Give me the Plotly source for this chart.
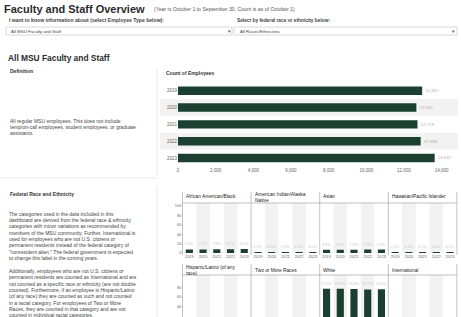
import plotly.graph_objects as go

W, H = 461, 317


def px(x):
    return x / W


def py(y):
    return 1 - y / H


# ---------------- data ----------------
years = ["2019", "2020", "2021", "2022", "2023"]
employee_counts = [12967, 12661, 12719, 12888, 13632]
count_ticks = [0, 2000, 4000, 6000, 8000, 10000, 12000, 14000]

race_groups = [
    "African American/Black",
    "American Indian/Alaska<br>Native",
    "Asian",
    "Hawaiian/Pacific Islander",
    "Hispanic/Latino (of any<br>race)",
    "Two or More Races",
    "White",
    "International",
]
pct_african_american = [7.6, 7.7, 7.9, 8.1, 8.4]
pct_american_indian = [0.5, 0.5, 0.5, 0.5, 0.5]
pct_asian = [6.8, 6.9, 7.0, 7.3, 7.4]
pct_hawaiian = [0.1, 0.1, 0.1, 0.1, 0.1]
pct_hispanic = [3.6, 3.8, 4.0, 4.2, 4.5]
pct_two_or_more = [1.8, 1.9, 2.0, 2.2, 2.3]
pct_white = [77.0, 76.9, 76.8, 75.7, 76.0]
pct_international = [3.3, 3.1, 3.0, 3.0, 3.2]
race_values = [pct_african_american, pct_american_indian, pct_asian, pct_hawaiian,
               pct_hispanic, pct_two_or_more, pct_white, pct_international]
pct_ticks_row1 = [0, 20, 40, 60, 80, 100]
pct_ticks_row2 = [20, 40, 60, 80]

definition_lines = [
    "All regular MSU employees. This does not include",
    "temp/on-call employees, student employees, or graduate",
    "assistants.",
]
federal_para1 = [
    "The categories used in the data included in this",
    "dashboard are derived from the federal race &amp; ethnicity",
    "categories with minor variations as recommended by",
    "members of the MSU community. Further, International is",
    "used for employees who are not U.S. citizens or",
    "permanent residents instead of the federal category of",
    "\"nonresident alien.\" The federal government is expected",
    "to change this label in the coming years.",
]
federal_para2 = [
    "Additionally, employees who are not U.S. citizens or",
    "permanent residents are counted as International and are",
    "not counted as a specific race or ethnicity (are not double",
    "counted). Furthermore, if an employee is Hispanic/Latino",
    "(of any race) they are counted as such and not counted",
    "in a racial category. For employees of Two or More",
    "Races, they are counted in that category and are not",
    "counted in individual racial categories.",
]

# ---------------- style ----------------
FONT = "Liberation Sans, Arial, sans-serif"
GREEN = "#1b3f30"
TXT = "#333333"
GRID_GRAY = "#f2f2f2"
LINE_H = 6.3

fig = go.Figure()
annotations = []
shapes = []


def text(x, y, s, size=5, color=TXT, bold=False, anchor="left"):
    if bold:
        s = "<b>" + s + "</b>"
    annotations.append(dict(
        x=px(x), y=py(y), xref="paper", yref="paper", text=s, showarrow=False,
        xanchor=anchor, yanchor="middle", align="left",
        font=dict(family=FONT, size=size, color=color)))


def line(x0, y0, x1, y1, color="#e2e2e2", width=0.8):
    shapes.append(dict(type="line", xref="paper", yref="paper",
                       x0=px(x0), y0=py(y0), x1=px(x1), y1=py(y1),
                       line=dict(color=color, width=width)))


def rect(x0, y0, x1, y1, color="#c8c8c8"):
    shapes.append(dict(type="rect", xref="paper", yref="paper",
                       x0=px(x0), y0=py(y0), x1=px(x1), y1=py(y1),
                       line=dict(color=color, width=0.7), fillcolor="white"))


# ---------------- header texts ----------------
text(2, 8.5, "Faculty and Staff Overview", size=11, color="#2b2b2b", bold=True)
text(152, 8.5, "(Year is October 1 to September 30. Count is as of October 1)", size=5.15, color="#555")
text(7, 20, "I want to know information about (select Employee Type below):", size=5.1, color="#444", bold=True)
text(235, 20, "Select by federal race or ethnicity below:", size=4.8, color="#444", bold=True)
rect(6, 27, 232, 35)
rect(234, 27, 457, 35)
text(9, 31, "All MSU Faculty and Staff", size=4.4, color="#444")
text(238, 31, "All Races/Ethnicities", size=4.4, color="#444")
text(229.5, 31, "▾", size=5, color="#555", anchor="center")
text(453.5, 31, "▾", size=5, color="#555", anchor="center")
text(6, 58.3, "All MSU Faculty and Staff", size=8.4, color="#2b2b2b", bold=True)
text(8, 71, "Definition", size=5, color="#333", bold=True)
text(164, 73, "Count of Employees", size=5, color="#333", bold=True)

for i, s in enumerate(definition_lines):
    text(8, 120.7 + i * LINE_H, s, size=5, color="#444")

text(8, 193.5, "Federal Race and Ethnicity", size=5, color="#333", bold=True)
for i, s in enumerate(federal_para1):
    text(7, 213.8 + i * LINE_H, s, size=5, color="#444")
for i, s in enumerate(federal_para2):
    text(7, 271.0 + i * LINE_H, s, size=5, color="#444")

# separators
line(157, 69, 157, 176)
line(157, 186, 157, 317)
line(0, 178, 157, 178)

# ---------------- top bar chart ----------------
x0_px, x14k_px = 178.0, 441.6
scale = (x14k_px - x0_px) / 14000
right_px = 455
fig.add_trace(go.Bar(
    x=employee_counts, y=years, orientation="h", marker=dict(color=GREEN, line=dict(width=0)),
    width=0.5, texttemplate="%{x:,}", textposition="outside", constraintext="none",
    cliponaxis=False, textfont=dict(family=FONT, size=4.4, color="#b0b0b0"),
    xaxis="x", yaxis="y", hoverinfo="skip", showlegend=False))

layout_axes = dict(
    xaxis=dict(domain=[px(x0_px), px(right_px)], range=[0, (right_px - x0_px) / scale],
               tickvals=count_ticks, tickformat=",", showgrid=False, zeroline=False,
               showline=False, ticks="", tickfont=dict(family=FONT, size=4.5, color="#666"),
               anchor="y", fixedrange=True, automargin=False),
    yaxis=dict(domain=[py(166.4), py(82.3)], type="category", categoryorder="array",
               categoryarray=years, autorange="reversed", showgrid=False, zeroline=False,
               ticks="", tickfont=dict(family=FONT, size=4.5, color="#666"), anchor="x",
               fixedrange=True, automargin=False),
)
# row banding
for idx in (1, 3):
    shapes.append(dict(type="rect", xref="paper", yref="y", x0=px(160), x1=px(458),
                       y0=idx - 0.5, y1=idx + 0.5, fillcolor=GRID_GRAY,
                       line=dict(width=0), layer="below"))

# ---------------- facet panels ----------------
L = [182.5, 251.1, 319.7, 388.3, 456.9]
for i, (name, vals) in enumerate(zip(race_groups, race_values)):
    row, col = divmod(i, 4)
    n = i + 2
    xa, ya = f"x{n}", f"y{n}"
    fig.add_trace(go.Bar(
        x=years, y=vals, marker=dict(color=GREEN, line=dict(width=0)), width=0.52,
        texttemplate="%{y:.1f}%", textposition="outside", constraintext="none",
        cliponaxis=False, textfont=dict(family=FONT, size=3.8, color="#c8c8c8"),
        xaxis=xa, yaxis=ya, hoverinfo="skip", showlegend=False))
    if row == 0:
        ydom = [py(253), py(203)]
        yrange = [0, 106.4]
        ytv = pct_ticks_row1
    else:
        ydom = [0, py(275)]
        yrange = [(325 - 317) / 0.47, 106.4]
        ytv = pct_ticks_row2
    layout_axes[f"xaxis{n}"] = dict(
        domain=[px(L[col]), px(L[col + 1])], type="category", categoryorder="array",
        categoryarray=years, range=[-0.5, 4.5], showgrid=False, zeroline=False,
        showline=False, ticks="", showticklabels=(row == 0),
        tickfont=dict(family=FONT, size=4, color="#666"), anchor=ya, fixedrange=True,
        automargin=False)
    layout_axes[f"yaxis{n}"] = dict(
        domain=ydom, range=yrange, tickvals=ytv, ticksuffix="%", showgrid=False,
        zeroline=False, showline=False, ticks="", showticklabels=(col == 0),
        tickfont=dict(family=FONT, size=4, color="#666"), anchor=xa, fixedrange=True,
        automargin=False)
    for idx in (1, 3):
        shapes.append(dict(type="rect", xref=xa, yref=f"{ya} domain", x0=idx - 0.5,
                           x1=idx + 0.5, y0=0, y1=1, fillcolor=GRID_GRAY,
                           line=dict(width=0), layer="below"))
    # header text
    if row == 0:
        ty = 196.5 if "<br>" not in name else 197
    else:
        ty = 270.5
    annotations.append(dict(
        x=px(L[col] + 1.5), y=py(ty), xref="paper", yref="paper", text=name,
        showarrow=False, xanchor="left", yanchor="middle", align="left",
        font=dict(family=FONT, size=4.8, color="#222")))

# header / divider lines
for xv in L:
    line(xv, 192, xv, 255, color="#a8a8a8", width=0.7)
    line(xv, 264, xv, 317, color="#a8a8a8", width=0.7)
line(L[0], 203, L[-1], 203, color="#a8a8a8", width=0.7)
line(L[0], 275, L[-1], 275, color="#a8a8a8", width=0.7)

fig.update_layout(
    width=W, height=H, margin=dict(l=0, r=0, t=0, b=0),
    paper_bgcolor="white", plot_bgcolor="rgba(0,0,0,0)",
    annotations=annotations, shapes=shapes, bargap=0.5, showlegend=False,
    font=dict(family=FONT, color=TXT), **layout_axes)

fig.write_html(
    "out.html",
    config={"displayModeBar": False},
    post_script="document.body.style.margin='0';document.body.style.overflow='hidden';")
